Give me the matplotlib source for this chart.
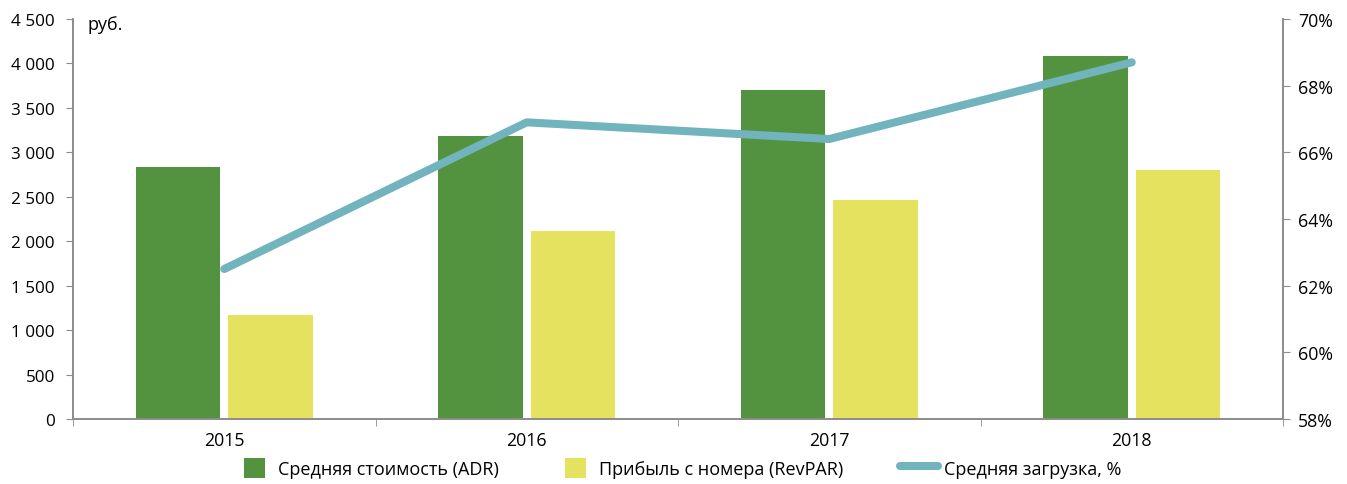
import numpy as np
import matplotlib.pyplot as plt
from matplotlib.lines import Line2D
from matplotlib.patches import Patch, Rectangle
from matplotlib.legend_handler import HandlerPatch
from matplotlib.ticker import FuncFormatter

plt.rcParams['font.family'] = ['Open Sans', 'DejaVu Sans']

# data
years = ['2015', '2016', '2017', '2018']
adr = [2840, 3180, 3700, 4080]        # Средняя стоимость (ADR), руб.
revpar = [1170, 2120, 2460, 2800]     # Прибыль с номера (RevPAR), руб.
occupancy = [62.5, 66.9, 66.4, 68.7]  # Средняя загрузка, %

green = '#53933f'
yellow = '#e5e260'
teal = '#72b4bd'
axis_grey = '#8c8c8c'

fig = plt.figure(figsize=(13.47, 4.85), dpi=100)
ax = fig.add_axes([73 / 1347, 65 / 485, 1210 / 1347, 400 / 485])
ax2 = ax.twinx()

x = np.arange(len(years))
w = 0.28
ax.bar(x - 0.153, adr, w, color=green, zorder=2)
ax.bar(x + 0.153, revpar, w, color=yellow, zorder=2)

ax2.plot(x, occupancy, color=teal, linewidth=5.8, solid_capstyle='round',
         solid_joinstyle='round', zorder=3)

ax.set_xlim(-0.5, 3.5)
ax.set_ylim(0, 4500)
ax2.set_ylim(58, 70)

ax.set_yticks(np.arange(0, 4501, 500))
ax.yaxis.set_major_formatter(FuncFormatter(lambda v, p: f'{int(v):,}'.replace(',', ' ')))
ax2.set_yticks(np.arange(58, 71, 2))
ax2.yaxis.set_major_formatter(FuncFormatter(lambda v, p: f'{int(v)}%'))

# category labels centred, tick marks between categories
ax.set_xticks(x)
ax.set_xticklabels(years)
ax.set_xticks(np.arange(-0.5, 3.6, 1), minor=True)
ax.tick_params(axis='x', which='major', length=0, pad=9, labelsize=12.8)
ax.tick_params(axis='x', which='minor', length=5, color=axis_grey, direction='out')
ax.tick_params(axis='y', length=5, color=axis_grey, labelsize=12.3, pad=8)
ax2.tick_params(axis='y', length=5, color=axis_grey, labelsize=12.8, pad=6)

for a in (ax, ax2):
    a.spines['top'].set_visible(False)
    for side in ('left', 'right', 'bottom'):
        a.spines[side].set_color(axis_grey)
        a.spines[side].set_linewidth(1.2)

ax.text(0.012, 0.987, 'руб.', transform=ax.transAxes, fontsize=13,
        ha='left', va='center')


# square patches narrower than the line handle
def square(legend, orig_handle, xdescent, ydescent, width, height, fontsize):
    side = height
    return Rectangle((width - side - 0.45 * fontsize - xdescent, -ydescent), side, height)


handles = [
    Patch(facecolor=green, label='Средняя стоимость (ADR)'),
    Patch(facecolor=yellow, label='Прибыль с номера (RevPAR)'),
    Line2D([0], [0], color=teal, linewidth=5.8, solid_capstyle='round',
           label='Средняя загрузка, %'),
]
fig.legend(handles=handles, loc='center', bbox_to_anchor=(0.503, 0.033), ncol=3,
           frameon=False, fontsize=13.0, handlelength=2.15, handleheight=1.35,
           columnspacing=3.1, handletextpad=0.3,
           handler_map={Patch: HandlerPatch(patch_func=square)})

fig.savefig('out.png', dpi=100)
